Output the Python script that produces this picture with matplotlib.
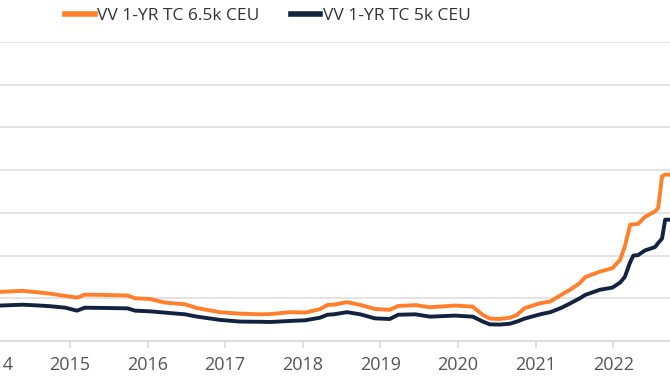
import matplotlib
matplotlib.use("Agg")
import matplotlib.pyplot as plt

# Decimal-year dates and time-charter rates (k$/day)
dates = [2014.00, 2014.10, 2014.39, 2014.61, 2014.74, 2014.94, 2015.09, 2015.19,
         2015.39, 2015.74, 2015.84, 2016.03, 2016.22, 2016.48, 2016.64, 2016.93,
         2017.19, 2017.45, 2017.58, 2017.84, 2018.03, 2018.22, 2018.32, 2018.40,
         2018.57, 2018.74, 2018.93, 2019.12, 2019.23, 2019.45, 2019.64, 2019.96,
         2020.19, 2020.32, 2020.41, 2020.54, 2020.67, 2020.76, 2020.86, 2021.06,
         2021.19, 2021.33, 2021.44, 2021.57, 2021.64, 2021.83, 2021.99, 2022.09,
         2022.15, 2022.22, 2022.26, 2022.32, 2022.41, 2022.54, 2022.58, 2022.63,
         2022.67, 2022.80]
tc_65k = [23.0, 23.0, 23.5, 22.7, 22.2, 21.1, 20.3, 21.7,
          21.6, 21.3, 20.0, 19.7, 18.0, 17.2, 15.4, 13.5,
          12.8, 12.5, 12.6, 13.5, 13.3, 14.9, 16.9, 17.0,
          18.2, 16.9, 15.0, 14.6, 16.4, 16.8, 15.8, 16.6,
          16.1, 12.2, 10.5, 10.3, 10.9, 12.2, 15.4, 17.7,
          18.5, 21.6, 23.9, 27.1, 29.9, 32.5, 34.1, 38.0,
          44.3, 54.5, 54.6, 54.8, 58.1, 60.7, 62.3, 77.1,
          77.9, 77.9]
tc_5k = [16.6, 16.6, 17.0, 16.6, 16.3, 15.6, 14.2, 15.6,
         15.5, 15.3, 14.2, 13.9, 13.3, 12.5, 11.4, 9.9,
         9.1, 9.0, 8.9, 9.4, 9.7, 10.9, 12.3, 12.5,
         13.5, 12.5, 10.6, 10.3, 12.3, 12.5, 11.4, 11.9,
         11.4, 9.1, 7.8, 7.7, 8.1, 9.1, 10.5, 12.5,
         13.5, 15.5, 17.5, 20.0, 21.6, 24.0, 25.0, 27.4,
         30.0, 37.0, 40.0, 40.2, 42.4, 44.0, 45.9, 48.0,
         56.8, 56.8]
year_ticks = [2014, 2015, 2016, 2017, 2018, 2019, 2020, 2021, 2022]
y_ticks = [0, 20, 40, 60, 80, 100, 120, 140]
labels = ["VV 1-YR TC 6.5k CEU", "VV 1-YR TC 5k CEU"]

plt.rcParams['font.family'] = ['Open Sans', 'DejaVu Sans']

fig = plt.figure(figsize=(6.7, 3.8), dpi=100)
ax = fig.add_axes([-0.0299, 0.1026, 1.0448, 0.787])

ax.plot(dates, tc_65k, color='#FF7F2A', lw=2.8, label=labels[0], zorder=3)
ax.plot(dates, tc_5k, color='#13233F', lw=2.8, label=labels[1], zorder=3)

ax.set_xlim(2013.84, 2022.861)
ax.set_ylim(0, 140)
ax.set_yticks(y_ticks)
ax.set_yticklabels([])
ax.set_xticks(year_ticks)
ax.set_xticklabels([str(y) for y in year_ticks])
ax.grid(axis='y', color='#E0E0E0', lw=1.3)
ax.set_axisbelow(True)
for s in ['left', 'right', 'top']:
    ax.spines[s].set_visible(False)
ax.spines['bottom'].set_color('#DADADA')
ax.spines['bottom'].set_linewidth(1.3)
ax.tick_params(axis='y', length=0)
ax.tick_params(axis='x', length=5, width=1.2, color='#DADADA',
               labelsize=13, labelcolor='#555555', pad=6)

leg = fig.legend(loc='center', bbox_to_anchor=(268 / 670, 1 - 16 / 380), ncol=2,
                 frameon=False, fontsize=12.5, handlelength=1.7, handletextpad=0.15,
                 columnspacing=1.8, labelcolor='#333333')
for line in leg.get_lines():
    line.set_linewidth(4)

fig.savefig('out.png', dpi=100)
